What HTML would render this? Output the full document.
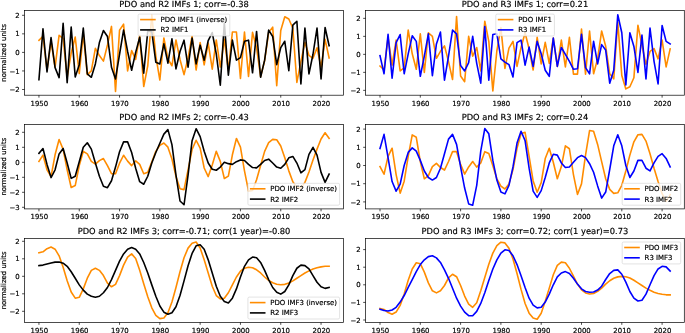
<!DOCTYPE html><html><head><meta charset="utf-8"><title>PDO IMFs</title><style>html,body{margin:0;padding:0;background:#fff}svg{display:block}text{font-family:"DejaVu Sans","Liberation Sans",sans-serif;fill:#000;stroke:#000;stroke-width:0.18px;text-rendering:geometricPrecision}</style></head><body>
<svg width="685" height="333" viewBox="0 0 685 333">
<rect width="685" height="333" fill="#fff"/>
<clipPath id="c1L"><rect x="24.50" y="10.50" width="319.10" height="84.70"/></clipPath>
<g clip-path="url(#c1L)" fill="none" stroke-linejoin="round" stroke-linecap="square" stroke-width="1.60">
<polyline stroke="#ff8c00" points="38.95,40.34 42.98,36.26 47.01,70.02 51.04,41.27 55.07,67.05 59.10,35.33 63.13,38.49 67.16,77.44 71.19,52.96 75.22,37.00 79.25,73.55 83.28,33.85 87.31,74.66 91.34,70.95 95.37,48.32 99.40,55.55 103.43,61.12 107.46,44.98 111.49,26.43 115.52,91.36 119.55,30.14 123.58,24.20 127.61,70.95 131.64,50.55 135.67,59.45 139.70,35.33 143.73,86.53 147.76,65.76 151.79,14.74 155.82,56.11 159.85,80.04 163.88,37.93 167.91,58.89 171.94,65.76 175.97,39.97 180.00,59.45 184.03,74.66 188.06,57.96 192.09,36.26 196.12,70.02 200.15,42.57 204.18,64.83 208.21,43.12 212.24,69.09 216.27,39.97 220.30,67.05 224.33,39.41 228.36,70.02 232.39,31.99 236.42,31.99 240.45,78.37 244.48,31.99 248.51,76.52 252.54,32.37 256.57,47.76 260.60,76.52 264.63,60.75 268.66,32.37 272.69,27.17 276.72,85.79 280.75,30.51 284.78,16.78 288.81,19.01 292.84,28.28 296.87,82.45 300.90,61.67 304.93,42.20 308.96,55.37 312.99,58.34 317.02,47.76 321.05,67.05 325.08,39.41 329.11,57.96"/>
<polyline stroke="#000" points="38.95,79.67 42.98,28.84 47.01,71.88 51.04,37.56 55.07,67.61 59.10,77.63 63.13,23.28 67.16,82.64 71.19,27.17 75.22,76.89 79.25,64.64 83.28,28.10 87.31,73.92 91.34,77.26 95.37,63.90 99.40,42.57 103.43,30.51 107.46,36.45 111.49,67.24 115.52,78.93 119.55,54.25 123.58,30.14 127.61,51.47 131.64,70.21 135.67,52.40 139.70,37.19 143.73,73.18 147.76,31.07 151.79,31.62 155.82,62.23 159.85,63.90 163.88,43.87 167.91,63.16 171.94,38.86 175.97,68.91 180.00,51.47 184.03,40.16 188.06,67.24 192.09,38.12 196.12,63.90 200.15,45.17 204.18,60.19 208.21,40.53 212.24,32.55 216.27,53.88 220.30,85.23 224.33,22.72 228.36,75.22 232.39,40.16 236.42,60.19 240.45,57.59 244.48,41.27 248.51,40.16 252.54,72.81 256.57,31.44 260.60,77.26 264.63,60.19 268.66,30.14 272.69,36.45 276.72,64.64 280.75,47.58 284.78,41.27 288.81,70.76 292.84,25.13 296.87,21.24 300.90,83.94 304.93,28.10 308.96,73.92 312.99,54.25 317.02,28.10 321.05,78.93 325.08,27.54 329.11,45.72"/>
</g>
<rect x="24.50" y="10.50" width="319.10" height="84.70" fill="none" stroke="#000" stroke-width="0.70"/>
<text x="39.35" y="106.00" font-size="6.94" text-anchor="middle">1950</text>
<text x="79.65" y="106.00" font-size="6.94" text-anchor="middle">1960</text>
<text x="119.95" y="106.00" font-size="6.94" text-anchor="middle">1970</text>
<text x="160.25" y="106.00" font-size="6.94" text-anchor="middle">1980</text>
<text x="200.55" y="106.00" font-size="6.94" text-anchor="middle">1990</text>
<text x="240.85" y="106.00" font-size="6.94" text-anchor="middle">2000</text>
<text x="281.15" y="106.00" font-size="6.94" text-anchor="middle">2010</text>
<text x="321.45" y="106.00" font-size="6.94" text-anchor="middle">2020</text>
<text x="19.64" y="17.94" font-size="6.94" text-anchor="end">2</text>
<text x="19.64" y="36.49" font-size="6.94" text-anchor="end">1</text>
<text x="19.64" y="55.04" font-size="6.94" text-anchor="end">0</text>
<text x="19.64" y="73.59" font-size="6.94" text-anchor="end">−1</text>
<text x="19.64" y="92.14" font-size="6.94" text-anchor="end">−2</text>
<path d="M38.95 95.20v2.43M79.25 95.20v2.43M119.55 95.20v2.43M159.85 95.20v2.43M200.15 95.20v2.43M240.45 95.20v2.43M280.75 95.20v2.43M321.05 95.20v2.43M24.50 15.30h-2.43M24.50 33.85h-2.43M24.50 52.40h-2.43M24.50 70.95h-2.43M24.50 89.50h-2.43" stroke="#000" stroke-width="0.70" fill="none"/>
<text x="184.05" y="7.00" font-size="8.32" text-anchor="middle">PDO and R2 IMFs 1; corr=-0.38</text>
<text transform="translate(5.70 52.85) rotate(-90)" font-size="6.94" text-anchor="middle">normalized units</text>
<rect x="138.10" y="14.10" width="91.70" height="21.90" rx="1.4" fill="#fff" fill-opacity="0.8" stroke="#ccc" stroke-opacity="0.8" stroke-width="0.7"/>
<path d="M140.90 19.60h14" stroke="#ff8c00" stroke-width="1.60" stroke-linecap="square"/>
<path d="M140.90 29.90h14" stroke="#000" stroke-width="1.60" stroke-linecap="square"/>
<text x="160.50" y="22.10" font-size="6.94">PDO IMF1 (inverse)</text>
<text x="160.50" y="32.40" font-size="6.94">R2 IMF1</text>
<clipPath id="c1R"><rect x="365.60" y="10.50" width="318.70" height="84.70"/></clipPath>
<g clip-path="url(#c1R)" fill="none" stroke-linejoin="round" stroke-linecap="square" stroke-width="1.60">
<polyline stroke="#ff8c00" points="380.00,66.05 384.03,70.01 388.06,37.25 392.09,65.15 396.12,40.13 400.15,70.91 404.18,67.85 408.21,30.05 412.24,53.81 416.27,69.29 420.30,33.83 424.33,72.35 428.36,32.75 432.39,36.35 436.42,58.31 440.45,51.29 444.48,45.89 448.51,61.55 452.54,79.55 456.57,16.55 460.60,75.95 464.63,81.71 468.66,36.35 472.69,56.15 476.72,47.51 480.75,70.91 484.78,21.23 488.81,41.39 492.84,90.89 496.87,50.75 500.90,27.53 504.93,68.39 508.96,48.05 512.99,41.39 517.02,66.41 521.05,47.51 525.08,32.75 529.11,48.95 533.14,70.01 537.17,37.25 541.20,63.89 545.23,42.29 549.26,63.35 553.29,38.15 557.32,66.41 561.35,40.13 565.38,66.95 569.41,37.25 573.44,74.15 577.47,74.15 581.50,29.15 585.53,74.15 589.56,30.95 593.59,73.79 597.62,58.85 601.65,30.95 605.68,46.25 609.71,73.79 613.74,78.83 617.77,21.95 621.80,75.59 625.83,88.91 629.86,86.75 633.89,77.75 637.92,25.19 641.95,45.35 645.98,64.25 650.01,51.47 654.04,48.59 658.07,58.85 662.10,40.13 666.13,66.95 670.16,48.95"/>
<polyline stroke="#0000ff" points="380.00,55.61 384.03,73.79 388.06,34.37 392.09,78.11 396.12,42.65 400.15,34.55 404.18,73.79 408.21,53.81 412.24,35.81 416.27,41.39 420.30,76.31 424.33,56.15 428.36,33.83 432.39,75.59 436.42,43.91 440.45,32.03 444.48,80.09 448.51,56.15 452.54,30.05 456.57,33.83 460.60,65.51 464.63,70.91 468.66,62.63 472.69,36.35 476.72,63.35 480.75,83.15 484.78,26.45 488.81,80.09 492.84,34.55 496.87,33.83 500.90,58.85 504.93,62.09 508.96,64.61 512.99,77.03 517.02,42.65 521.05,40.13 525.08,65.15 529.11,47.15 533.14,66.41 537.17,41.39 541.20,53.81 545.23,70.19 549.26,76.31 553.29,38.15 557.32,66.41 561.35,47.51 565.38,54.35 569.41,61.37 573.44,69.29 577.47,68.75 581.50,34.37 585.53,67.67 589.56,73.79 593.59,41.39 597.62,63.89 601.65,44.63 605.68,50.03 609.71,83.15 613.74,70.19 617.77,14.75 621.80,32.75 625.83,84.95 629.86,32.75 633.89,46.43 637.92,72.35 641.95,35.09 645.98,78.83 650.01,28.07 654.04,61.37 658.07,83.87 662.10,25.55 666.13,41.39 670.16,43.91"/>
</g>
<rect x="365.60" y="10.50" width="318.70" height="84.70" fill="none" stroke="#000" stroke-width="0.70"/>
<text x="380.40" y="106.00" font-size="6.94" text-anchor="middle">1950</text>
<text x="420.70" y="106.00" font-size="6.94" text-anchor="middle">1960</text>
<text x="461.00" y="106.00" font-size="6.94" text-anchor="middle">1970</text>
<text x="501.30" y="106.00" font-size="6.94" text-anchor="middle">1980</text>
<text x="541.60" y="106.00" font-size="6.94" text-anchor="middle">1990</text>
<text x="581.90" y="106.00" font-size="6.94" text-anchor="middle">2000</text>
<text x="622.20" y="106.00" font-size="6.94" text-anchor="middle">2010</text>
<text x="662.50" y="106.00" font-size="6.94" text-anchor="middle">2020</text>
<text x="360.74" y="20.99" font-size="6.94" text-anchor="end">2</text>
<text x="360.74" y="38.99" font-size="6.94" text-anchor="end">1</text>
<text x="360.74" y="56.99" font-size="6.94" text-anchor="end">0</text>
<text x="360.74" y="74.99" font-size="6.94" text-anchor="end">−1</text>
<text x="360.74" y="92.99" font-size="6.94" text-anchor="end">−2</text>
<path d="M380.00 95.20v2.43M420.30 95.20v2.43M460.60 95.20v2.43M500.90 95.20v2.43M541.20 95.20v2.43M581.50 95.20v2.43M621.80 95.20v2.43M662.10 95.20v2.43M365.60 18.35h-2.43M365.60 36.35h-2.43M365.60 54.35h-2.43M365.60 72.35h-2.43M365.60 90.35h-2.43" stroke="#000" stroke-width="0.70" fill="none"/>
<text x="524.95" y="7.00" font-size="8.32" text-anchor="middle">PDO and R3 IMFs 1; corr=0.21</text>
<rect x="495.80" y="14.10" width="58.60" height="21.90" rx="1.4" fill="#fff" fill-opacity="0.8" stroke="#ccc" stroke-opacity="0.8" stroke-width="0.7"/>
<path d="M498.60 19.60h14" stroke="#ff8c00" stroke-width="1.60" stroke-linecap="square"/>
<path d="M498.60 29.90h14" stroke="#0000ff" stroke-width="1.60" stroke-linecap="square"/>
<text x="518.20" y="22.10" font-size="6.94">PDO IMF1</text>
<text x="518.20" y="32.40" font-size="6.94">R3 IMF1</text>
<clipPath id="c2L"><rect x="24.50" y="124.40" width="319.10" height="84.50"/></clipPath>
<g clip-path="url(#c2L)" fill="none" stroke-linejoin="round" stroke-linecap="square" stroke-width="1.60">
<polyline stroke="#ff8c00" points="38.95,161.40 42.98,155.10 47.01,169.80 51.04,176.55 55.07,154.80 59.10,139.50 63.13,149.40 67.16,169.80 71.19,187.50 75.22,185.55 79.25,165.60 83.28,151.35 87.31,153.90 91.34,161.40 95.37,164.10 99.40,160.65 103.43,158.55 107.46,165.60 111.49,173.70 115.52,173.70 119.55,163.20 123.58,155.25 127.61,161.10 131.64,165.60 135.67,160.95 139.70,164.40 143.73,173.70 147.76,172.20 151.79,162.00 155.82,151.35 159.85,145.35 163.88,142.95 167.91,147.15 171.94,159.00 175.97,176.40 180.00,188.70 184.03,189.60 188.06,169.80 192.09,149.55 196.12,140.25 200.15,148.20 204.18,168.00 208.21,176.55 212.24,165.00 216.27,151.35 220.30,161.40 224.33,178.50 228.36,176.10 232.39,154.80 236.42,138.45 240.45,147.15 244.48,170.85 248.51,191.10 252.54,190.50 256.57,179.70 260.60,165.45 264.63,151.35 268.66,142.65 272.69,139.35 276.72,139.80 280.75,145.95 284.78,157.80 288.81,170.85 292.84,181.80 296.87,187.65 300.90,187.95 304.93,182.40 308.96,172.05 312.99,160.05 317.02,149.10 321.05,139.05 325.08,132.75 329.11,138.30"/>
<polyline stroke="#000" points="38.95,153.30 42.98,148.50 47.01,164.40 51.04,177.60 55.07,169.80 59.10,153.90 63.13,148.50 67.16,163.05 71.19,178.35 75.22,176.25 79.25,161.70 83.28,147.30 87.31,142.80 91.34,149.10 95.37,163.05 99.40,176.25 103.43,186.30 107.46,187.65 111.49,180.75 115.52,167.10 119.55,151.80 123.58,141.90 127.61,141.90 131.64,152.55 135.67,168.30 139.70,181.65 143.73,184.20 147.76,176.25 151.79,163.05 155.82,152.55 159.85,143.25 163.88,134.10 167.91,129.60 171.94,144.60 175.97,175.05 180.00,201.00 184.03,204.75 188.06,175.05 192.09,140.70 196.12,128.70 200.15,136.65 204.18,151.20 208.21,163.05 212.24,169.20 216.27,170.25 220.30,167.10 224.33,162.30 228.36,163.65 232.39,164.40 236.42,161.70 240.45,159.90 244.48,160.50 248.51,164.40 252.54,167.55 256.57,167.85 260.60,164.40 264.63,160.50 268.66,159.15 272.69,163.05 276.72,167.10 280.75,168.30 284.78,164.40 288.81,157.80 292.84,156.45 296.87,163.05 300.90,172.80 304.93,169.65 308.96,154.35 312.99,147.30 317.02,155.10 321.05,172.35 325.08,182.40 329.11,174.15"/>
</g>
<rect x="24.50" y="124.40" width="319.10" height="84.50" fill="none" stroke="#000" stroke-width="0.70"/>
<text x="39.35" y="219.00" font-size="6.94" text-anchor="middle">1950</text>
<text x="79.65" y="219.00" font-size="6.94" text-anchor="middle">1960</text>
<text x="119.95" y="219.00" font-size="6.94" text-anchor="middle">1970</text>
<text x="160.25" y="219.00" font-size="6.94" text-anchor="middle">1980</text>
<text x="200.55" y="219.00" font-size="6.94" text-anchor="middle">1990</text>
<text x="240.85" y="219.00" font-size="6.94" text-anchor="middle">2000</text>
<text x="281.15" y="219.00" font-size="6.94" text-anchor="middle">2010</text>
<text x="321.45" y="219.00" font-size="6.94" text-anchor="middle">2020</text>
<text x="19.64" y="134.94" font-size="6.94" text-anchor="end">2</text>
<text x="19.64" y="149.94" font-size="6.94" text-anchor="end">1</text>
<text x="19.64" y="164.94" font-size="6.94" text-anchor="end">0</text>
<text x="19.64" y="179.94" font-size="6.94" text-anchor="end">−1</text>
<text x="19.64" y="194.94" font-size="6.94" text-anchor="end">−2</text>
<text x="19.64" y="209.94" font-size="6.94" text-anchor="end">−3</text>
<path d="M38.95 208.90v2.43M79.25 208.90v2.43M119.55 208.90v2.43M159.85 208.90v2.43M200.15 208.90v2.43M240.45 208.90v2.43M280.75 208.90v2.43M321.05 208.90v2.43M24.50 132.30h-2.43M24.50 147.30h-2.43M24.50 162.30h-2.43M24.50 177.30h-2.43M24.50 192.30h-2.43M24.50 207.30h-2.43" stroke="#000" stroke-width="0.70" fill="none"/>
<text x="184.05" y="120.00" font-size="8.32" text-anchor="middle">PDO and R2 IMFs 2; corr=-0.43</text>
<text transform="translate(5.70 166.65) rotate(-90)" font-size="6.94" text-anchor="middle">normalized units</text>
<rect x="247.90" y="183.30" width="91.70" height="21.90" rx="1.4" fill="#fff" fill-opacity="0.8" stroke="#ccc" stroke-opacity="0.8" stroke-width="0.7"/>
<path d="M250.70 188.80h14" stroke="#ff8c00" stroke-width="1.60" stroke-linecap="square"/>
<path d="M250.70 199.10h14" stroke="#000" stroke-width="1.60" stroke-linecap="square"/>
<text x="270.30" y="191.30" font-size="6.94">PDO IMF2 (inverse)</text>
<text x="270.30" y="201.60" font-size="6.94">R2 IMF2</text>
<clipPath id="c2R"><rect x="365.60" y="124.40" width="318.70" height="84.50"/></clipPath>
<g clip-path="url(#c2R)" fill="none" stroke-linejoin="round" stroke-linecap="square" stroke-width="1.60">
<polyline stroke="#ff8c00" points="380.00,166.59 384.03,174.24 388.06,156.40 392.09,148.21 396.12,174.60 400.15,193.16 404.18,181.15 408.21,156.40 412.24,134.92 416.27,137.29 420.30,161.50 424.33,178.79 428.36,175.69 432.39,166.59 436.42,163.32 440.45,167.50 444.48,170.05 448.51,161.50 452.54,151.67 456.57,151.67 460.60,164.41 464.63,174.05 468.66,166.96 472.69,161.50 476.72,167.14 480.75,162.95 484.78,151.67 488.81,153.49 492.84,165.86 496.87,178.79 500.90,186.07 504.93,188.98 508.96,183.88 512.99,169.50 517.02,148.39 521.05,133.47 525.08,132.38 529.11,156.40 533.14,180.97 537.17,192.25 541.20,182.61 545.23,158.58 549.26,148.21 553.29,162.22 557.32,178.79 561.35,166.59 565.38,145.84 569.41,148.76 573.44,174.60 577.47,194.44 581.50,183.88 585.53,155.13 589.56,130.56 593.59,131.28 597.62,144.39 601.65,161.68 605.68,178.79 609.71,189.34 613.74,193.35 617.77,192.80 621.80,185.34 625.83,170.96 629.86,155.13 633.89,141.84 637.92,134.74 641.95,134.38 645.98,141.11 650.01,153.67 654.04,168.23 658.07,181.52 662.10,193.71 666.13,201.35 670.16,194.62"/>
<polyline stroke="#0000ff" points="380.00,148.39 384.03,134.38 388.06,157.67 392.09,181.52 396.12,191.16 400.15,184.06 404.18,165.50 408.21,152.40 412.24,147.85 416.27,151.12 420.30,160.40 424.33,170.96 428.36,177.51 432.39,180.06 436.42,177.51 440.45,168.23 444.48,153.67 448.51,139.11 452.54,134.38 456.57,144.39 460.60,166.96 464.63,188.07 468.66,203.90 472.69,205.18 476.72,185.34 480.75,151.12 484.78,128.55 488.81,133.83 492.84,160.40 496.87,180.06 500.90,192.07 504.93,193.89 508.96,185.34 512.99,166.96 517.02,143.11 521.05,131.28 525.08,140.57 529.11,168.23 533.14,191.16 537.17,197.35 541.20,190.62 545.23,177.51 549.26,162.95 553.29,154.22 557.32,155.13 561.35,162.95 565.38,167.50 569.41,166.96 573.44,162.22 577.47,157.67 581.50,155.49 585.53,157.67 589.56,163.68 593.59,172.23 597.62,185.88 601.65,198.08 605.68,192.07 609.71,169.50 613.74,145.84 617.77,134.74 621.80,145.84 625.83,165.50 629.86,177.51 633.89,170.96 637.92,160.40 641.95,160.40 645.98,168.23 650.01,170.96 654.04,162.95 658.07,156.40 662.10,153.67 666.13,158.40 670.16,166.96"/>
</g>
<rect x="365.60" y="124.40" width="318.70" height="84.50" fill="none" stroke="#000" stroke-width="0.70"/>
<text x="380.40" y="219.00" font-size="6.94" text-anchor="middle">1950</text>
<text x="420.70" y="219.00" font-size="6.94" text-anchor="middle">1960</text>
<text x="461.00" y="219.00" font-size="6.94" text-anchor="middle">1970</text>
<text x="501.30" y="219.00" font-size="6.94" text-anchor="middle">1980</text>
<text x="541.60" y="219.00" font-size="6.94" text-anchor="middle">1990</text>
<text x="581.90" y="219.00" font-size="6.94" text-anchor="middle">2000</text>
<text x="622.20" y="219.00" font-size="6.94" text-anchor="middle">2010</text>
<text x="662.50" y="219.00" font-size="6.94" text-anchor="middle">2020</text>
<text x="360.74" y="131.74" font-size="6.94" text-anchor="end">2</text>
<text x="360.74" y="149.94" font-size="6.94" text-anchor="end">1</text>
<text x="360.74" y="168.14" font-size="6.94" text-anchor="end">0</text>
<text x="360.74" y="186.34" font-size="6.94" text-anchor="end">−1</text>
<text x="360.74" y="204.54" font-size="6.94" text-anchor="end">−2</text>
<path d="M380.00 208.90v2.43M420.30 208.90v2.43M460.60 208.90v2.43M500.90 208.90v2.43M541.20 208.90v2.43M581.50 208.90v2.43M621.80 208.90v2.43M662.10 208.90v2.43M365.60 129.10h-2.43M365.60 147.30h-2.43M365.60 165.50h-2.43M365.60 183.70h-2.43M365.60 201.90h-2.43" stroke="#000" stroke-width="0.70" fill="none"/>
<text x="524.95" y="120.00" font-size="8.32" text-anchor="middle">PDO and R3 IMFs 2; corr=0.24</text>
<rect x="622.20" y="183.30" width="58.50" height="21.90" rx="1.4" fill="#fff" fill-opacity="0.8" stroke="#ccc" stroke-opacity="0.8" stroke-width="0.7"/>
<path d="M625.00 188.80h14" stroke="#ff8c00" stroke-width="1.60" stroke-linecap="square"/>
<path d="M625.00 199.10h14" stroke="#0000ff" stroke-width="1.60" stroke-linecap="square"/>
<text x="644.60" y="191.30" font-size="6.94">PDO IMF2</text>
<text x="644.60" y="201.60" font-size="6.94">R3 IMF2</text>
<clipPath id="c3L"><rect x="24.50" y="238.40" width="319.10" height="84.00"/></clipPath>
<g clip-path="url(#c3L)" fill="none" stroke-linejoin="round" stroke-linecap="square" stroke-width="1.60">
<polyline stroke="#ff8c00" points="38.95,252.68 42.98,251.80 47.01,248.65 51.04,247.08 55.07,249.18 59.10,255.83 63.13,267.20 67.16,280.85 71.19,292.05 75.22,298.18 79.25,297.30 83.28,288.90 87.31,278.23 91.34,270.35 95.37,268.25 99.40,270.35 103.43,275.60 107.46,283.12 111.49,286.80 115.52,284.35 119.55,275.60 123.58,265.10 127.61,257.05 131.64,253.90 135.67,258.45 139.70,270.35 143.73,283.65 147.76,296.78 151.79,307.80 155.82,315.32 159.85,318.65 163.88,317.95 167.91,312.70 171.94,302.03 175.97,287.50 180.00,271.75 184.03,257.75 188.06,248.12 192.09,243.23 196.12,242.00 200.15,247.95 204.18,259.85 208.21,272.98 212.24,286.28 216.27,295.55 220.30,298.88 224.33,298.18 228.36,292.75 232.39,284.88 236.42,277.00 240.45,271.23 244.48,268.25 248.51,267.20 252.54,267.73 256.57,269.82 260.60,272.98 264.63,277.00 268.66,280.32 272.69,282.78 276.72,284.18 280.75,284.70 284.78,284.35 288.81,283.12 292.84,280.85 296.87,278.23 300.90,275.60 304.93,272.98 308.96,270.88 312.99,268.95 317.02,267.73 321.05,266.85 325.08,266.32 329.11,266.32"/>
<polyline stroke="#000" points="38.95,265.62 42.98,265.10 47.01,264.05 51.04,263.00 55.07,262.12 59.10,261.95 63.13,263.18 67.16,266.32 71.19,271.75 75.22,278.23 79.25,284.88 83.28,290.12 87.31,294.15 91.34,296.25 95.37,297.30 99.40,296.25 103.43,292.75 107.46,287.50 111.49,279.62 115.52,270.35 119.55,261.07 123.58,253.90 127.61,249.18 131.64,247.60 135.67,249.18 139.70,253.90 143.73,262.48 147.76,272.98 151.79,284.88 155.82,296.25 159.85,306.05 163.88,312.18 167.91,314.28 171.94,312.70 175.97,306.75 180.00,295.55 184.03,280.85 188.06,265.80 192.09,253.38 196.12,245.85 200.15,244.80 204.18,249.18 208.21,259.85 212.24,272.98 216.27,286.28 220.30,296.25 224.33,301.50 228.36,302.90 232.39,298.18 236.42,288.90 240.45,277.00 244.48,266.32 248.51,259.85 252.54,257.05 256.57,257.75 260.60,262.48 264.63,270.35 268.66,279.62 272.69,287.50 276.72,292.23 280.75,294.15 284.78,291.53 288.81,284.88 292.84,275.60 296.87,268.25 300.90,265.10 304.93,265.62 308.96,268.95 312.99,275.60 317.02,282.25 321.05,286.80 325.08,288.38 329.11,287.50"/>
</g>
<rect x="24.50" y="238.40" width="319.10" height="84.00" fill="none" stroke="#000" stroke-width="0.70"/>
<text x="39.35" y="333.00" font-size="6.94" text-anchor="middle">1950</text>
<text x="79.65" y="333.00" font-size="6.94" text-anchor="middle">1960</text>
<text x="119.95" y="333.00" font-size="6.94" text-anchor="middle">1970</text>
<text x="160.25" y="333.00" font-size="6.94" text-anchor="middle">1980</text>
<text x="200.55" y="333.00" font-size="6.94" text-anchor="middle">1990</text>
<text x="240.85" y="333.00" font-size="6.94" text-anchor="middle">2000</text>
<text x="281.15" y="333.00" font-size="6.94" text-anchor="middle">2010</text>
<text x="321.45" y="333.00" font-size="6.94" text-anchor="middle">2020</text>
<text x="19.64" y="243.94" font-size="6.94" text-anchor="end">2</text>
<text x="19.64" y="261.44" font-size="6.94" text-anchor="end">1</text>
<text x="19.64" y="278.94" font-size="6.94" text-anchor="end">0</text>
<text x="19.64" y="296.44" font-size="6.94" text-anchor="end">−1</text>
<text x="19.64" y="313.94" font-size="6.94" text-anchor="end">−2</text>
<path d="M38.95 322.40v2.43M79.25 322.40v2.43M119.55 322.40v2.43M159.85 322.40v2.43M200.15 322.40v2.43M240.45 322.40v2.43M280.75 322.40v2.43M321.05 322.40v2.43M24.50 241.30h-2.43M24.50 258.80h-2.43M24.50 276.30h-2.43M24.50 293.80h-2.43M24.50 311.30h-2.43" stroke="#000" stroke-width="0.70" fill="none"/>
<text x="184.05" y="234.00" font-size="8.32" text-anchor="middle">PDO and R2 IMFs 3; corr=-0.71; corr(1 year)=-0.80</text>
<text transform="translate(5.70 280.40) rotate(-90)" font-size="6.94" text-anchor="middle">normalized units</text>
<rect x="247.90" y="297.10" width="91.70" height="21.90" rx="1.4" fill="#fff" fill-opacity="0.8" stroke="#ccc" stroke-opacity="0.8" stroke-width="0.7"/>
<path d="M250.70 302.60h14" stroke="#ff8c00" stroke-width="1.60" stroke-linecap="square"/>
<path d="M250.70 312.90h14" stroke="#000" stroke-width="1.60" stroke-linecap="square"/>
<text x="270.30" y="305.10" font-size="6.94">PDO IMF3 (inverse)</text>
<text x="270.30" y="315.40" font-size="6.94">R2 IMF3</text>
<clipPath id="c3R"><rect x="365.60" y="238.40" width="318.70" height="84.00"/></clipPath>
<g clip-path="url(#c3R)" fill="none" stroke-linejoin="round" stroke-linecap="square" stroke-width="1.60">
<polyline stroke="#ff8c00" points="380.00,308.56 384.03,309.44 388.06,312.61 392.09,314.19 396.12,312.08 400.15,305.39 404.18,293.95 408.21,280.22 412.24,268.96 416.27,262.80 420.30,263.68 424.33,272.13 428.36,282.86 432.39,290.78 436.42,292.90 440.45,290.78 444.48,285.50 448.51,277.94 452.54,274.24 456.57,276.70 460.60,285.50 464.63,296.06 468.66,304.16 472.69,307.33 476.72,302.75 480.75,290.78 484.78,277.41 488.81,264.21 492.84,253.12 496.87,245.55 500.90,242.21 504.93,242.91 508.96,248.19 512.99,258.93 517.02,273.54 521.05,289.38 525.08,303.46 529.11,313.14 533.14,318.06 537.17,319.30 541.20,313.31 545.23,301.34 549.26,288.14 553.29,274.77 557.32,265.44 561.35,262.10 565.38,262.80 569.41,268.26 573.44,276.18 577.47,284.10 581.50,289.90 585.53,292.90 589.56,293.95 593.59,293.42 597.62,291.31 601.65,288.14 605.68,284.10 609.71,280.75 613.74,278.29 617.77,276.88 621.80,276.35 625.83,276.70 629.86,277.94 633.89,280.22 637.92,282.86 641.95,285.50 645.98,288.14 650.01,290.26 654.04,292.19 658.07,293.42 662.10,294.30 666.13,294.83 670.16,294.83"/>
<polyline stroke="#0000ff" points="380.00,309.26 384.03,310.50 388.06,311.02 392.09,309.97 396.12,307.33 400.15,302.05 404.18,295.54 408.21,287.44 412.24,279.52 416.27,271.60 420.30,264.56 424.33,259.81 428.36,256.64 432.39,255.76 436.42,257.87 440.45,262.45 444.48,269.84 448.51,278.29 452.54,288.32 456.57,298.18 460.60,306.10 464.63,312.08 468.66,315.60 472.69,315.78 476.72,311.38 480.75,303.46 484.78,292.72 488.81,280.40 492.84,268.96 496.87,259.81 500.90,253.12 504.93,249.78 508.96,250.48 512.99,255.76 517.02,264.56 521.05,275.65 525.08,287.44 529.11,298.18 533.14,305.04 537.17,307.86 541.20,307.33 545.23,302.05 549.26,294.13 553.29,284.80 557.32,276.88 561.35,273.01 565.38,271.60 569.41,273.54 573.44,278.29 577.47,284.10 581.50,288.85 585.53,291.49 589.56,292.19 593.59,292.02 597.62,290.08 601.65,286.21 605.68,279.52 609.71,273.54 613.74,270.37 617.77,269.84 621.80,274.24 625.83,282.16 629.86,291.49 633.89,298.18 637.92,300.99 641.95,300.29 645.98,294.13 650.01,284.80 654.04,275.65 658.07,268.96 662.10,266.32 666.13,266.85 670.16,271.07"/>
</g>
<rect x="365.60" y="238.40" width="318.70" height="84.00" fill="none" stroke="#000" stroke-width="0.70"/>
<text x="380.40" y="333.00" font-size="6.94" text-anchor="middle">1950</text>
<text x="420.70" y="333.00" font-size="6.94" text-anchor="middle">1960</text>
<text x="461.00" y="333.00" font-size="6.94" text-anchor="middle">1970</text>
<text x="501.30" y="333.00" font-size="6.94" text-anchor="middle">1980</text>
<text x="541.60" y="333.00" font-size="6.94" text-anchor="middle">1990</text>
<text x="581.90" y="333.00" font-size="6.94" text-anchor="middle">2000</text>
<text x="622.20" y="333.00" font-size="6.94" text-anchor="middle">2010</text>
<text x="662.50" y="333.00" font-size="6.94" text-anchor="middle">2020</text>
<text x="360.74" y="252.24" font-size="6.94" text-anchor="end">2</text>
<text x="360.74" y="269.84" font-size="6.94" text-anchor="end">1</text>
<text x="360.74" y="287.44" font-size="6.94" text-anchor="end">0</text>
<text x="360.74" y="305.04" font-size="6.94" text-anchor="end">−1</text>
<text x="360.74" y="322.64" font-size="6.94" text-anchor="end">−2</text>
<path d="M380.00 322.40v2.43M420.30 322.40v2.43M460.60 322.40v2.43M500.90 322.40v2.43M541.20 322.40v2.43M581.50 322.40v2.43M621.80 322.40v2.43M662.10 322.40v2.43M365.60 249.60h-2.43M365.60 267.20h-2.43M365.60 284.80h-2.43M365.60 302.40h-2.43M365.60 320.00h-2.43" stroke="#000" stroke-width="0.70" fill="none"/>
<text x="524.95" y="234.00" font-size="8.32" text-anchor="middle">PDO and R3 IMFs 3; corr=0.72; corr(1 year)=0.73</text>
<rect x="622.20" y="242.00" width="58.50" height="21.90" rx="1.4" fill="#fff" fill-opacity="0.8" stroke="#ccc" stroke-opacity="0.8" stroke-width="0.7"/>
<path d="M625.00 247.50h14" stroke="#ff8c00" stroke-width="1.60" stroke-linecap="square"/>
<path d="M625.00 257.80h14" stroke="#0000ff" stroke-width="1.60" stroke-linecap="square"/>
<text x="644.60" y="250.00" font-size="6.94">PDO IMF3</text>
<text x="644.60" y="260.30" font-size="6.94">R3 IMF3</text>
</svg></body></html>
